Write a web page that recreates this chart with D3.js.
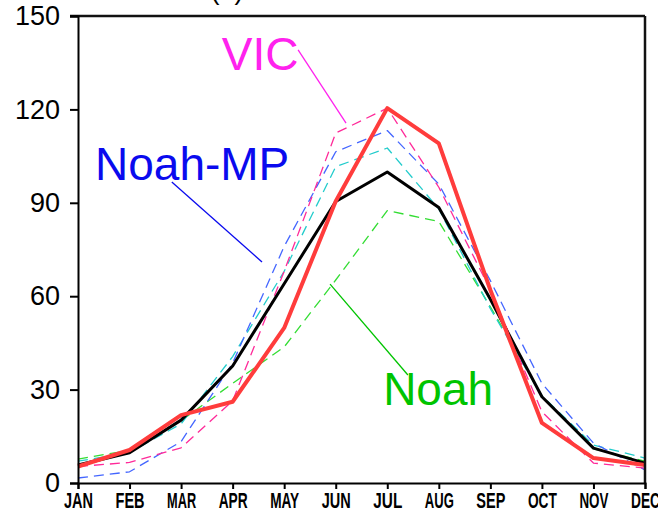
<!DOCTYPE html>
<html>
<head>
<meta charset="utf-8">
<script src="https://cdn.jsdelivr.net/npm/d3@7"></script>
<style>
  body { margin: 0; background: #fff; }
  svg { display: block; }
</style>
</head>
<body>
<div id="chart"></div>
<script>
// monthly values
let months = ["JAN", "FEB", "MAR", "APR", "MAY", "JUN", "JUL", "AUG", "SEP", "OCT", "NOV", "DEC"];
let yTicks = [0, 30, 60, 90, 120, 150];

let obs    = [5.8, 9.7, 20.2, 37.6, 64, 90.4, 99.9, 88.5, 59, 27.7, 11.2, 6.4];
let redRun = [5.3, 10.6, 21.8, 26.1, 49.8, 90.5, 120.4, 109.1, 62, 19.3, 8, 5.8];
let vic    = [5.3, 6.6, 11.3, 26.4, 68, 112.4, 120.4, 95, 62, 22.9, 6.4, 4.8];
let noahmp = [1.6, 3.6, 13.3, 38.5, 76, 106.4, 113.2, 96, 65, 32, 12.8, 4.2];
let cyanRun = [7, 9.8, 19, 40.6, 68, 101.6, 107.6, 88, 56, 28, 12.2, 8];
let noah   = [7.7, 10.5, 20, 32, 43.7, 65.2, 87.5, 84, 56.6, 28, 11, 7];

// labels: [month index, value] of text anchor and leader line ends
let labels = [
    {text: "VIC", color: "#ff22ee", at: [2.79, 132.7], line: [[4.27, 139.1], [5.20, 115.6]]},
    {text: "Noah-MP", color: "#0a0aee", at: [0.33, 97.3], line: [[1.82, 96.7], [3.57, 71]]},
    {text: "Noah", color: "#00c400", at: [5.92, 25.1], line: [[4.89, 63.9], [6.40, 34.7]]}
];

let margin = {left: 78, right: 13, top: 16, bottom: 29};
let width = 658 - margin.left - margin.right,
    height = 512 - margin.top - margin.bottom;

let svg = d3.select("#chart")
    .append("svg")
    .attr("width", 658)
    .attr("height", 512);

let g = svg.append("g")
    .attr("transform", "translate(" + margin.left + "," + margin.top + ")");

let x = d3.scalePoint()
    .domain(months)
    .range([0, width]);

let xi = d3.scaleLinear()
    .domain([0, months.length - 1])
    .range([0, width]);

let y = d3.scaleLinear()
    .domain([0, 150])
    .range([height, 0]);

// title, mostly cut off at the top
svg.append("text")
    .attr("x", 227)
    .attr("y", -1)
    .attr("text-anchor", "middle")
    .attr("font-family", "Liberation Sans, Arial, sans-serif")
    .attr("font-size", "27px")
    .text("(a)");

let line = d3.line()
    .x((d, i) => x(months[i]))
    .y(d => y(d));

let series = [
    {values: noah, color: "#33dd33", width: 1.3, dash: "10,6"},
    {values: cyanRun, color: "#22cccc", width: 1.3, dash: "10,6"},
    {values: noahmp, color: "#4466ff", width: 1.3, dash: "10,6"},
    {values: vic, color: "#ff2a99", width: 1.3, dash: "10,6"},
    {values: obs, color: "#000000", width: 3, dash: null},
    {values: redRun, color: "#ff3c3c", width: 4, dash: null}
];

g.selectAll("path.series")
    .data(series)
    .enter()
    .append("path")
    .attr("class", "series")
    .attr("fill", "none")
    .attr("stroke", d => d.color)
    .attr("stroke-width", d => d.width)
    .attr("stroke-dasharray", d => d.dash)
    .attr("stroke-linejoin", "round")
    .attr("d", d => line(d.values));

// frame: top and right
g.append("line")
    .attr("x1", -8).attr("x2", width)
    .attr("y1", 0).attr("y2", 0)
    .attr("stroke", "#111").attr("stroke-width", 2.5);
g.append("line")
    .attr("x1", width).attr("x2", width)
    .attr("y1", 0).attr("y2", height)
    .attr("stroke", "#111").attr("stroke-width", 2.5);

// axes
let yAxis = g.append("g")
    .call(d3.axisLeft(y).tickValues(yTicks).tickSize(8).tickPadding(10));
let xAxis = g.append("g")
    .attr("transform", "translate(0," + height + ")")
    .call(d3.axisBottom(x).tickSize(6).tickPadding(3));

[yAxis, xAxis].forEach(a => {
    a.select(".domain").attr("stroke", "#000").attr("stroke-width", 2);
    a.selectAll(".tick line").attr("stroke", "#000").attr("stroke-width", 2);
});

yAxis.selectAll("text")
    .attr("font-family", "Liberation Sans, Arial, sans-serif")
    .attr("font-size", "27px")
    .attr("fill", "#000");

xAxis.selectAll("text")
    .attr("font-family", "Liberation Sans, Arial, sans-serif")
    .attr("font-size", "22px")
    .attr("font-weight", "bold")
    .attr("fill", "#000")
    .attr("textLength", 29)
    .attr("lengthAdjust", "spacingAndGlyphs");

// model labels with leader lines
labels.forEach(l => {
    g.append("line")
        .attr("x1", xi(l.line[0][0])).attr("y1", y(l.line[0][1]))
        .attr("x2", xi(l.line[1][0])).attr("y2", y(l.line[1][1]))
        .attr("stroke", l.color)
        .attr("stroke-width", 1.3);
    g.append("text")
        .attr("x", xi(l.at[0]))
        .attr("y", y(l.at[1]))
        .attr("font-family", "Liberation Sans, Arial, sans-serif")
        .attr("font-size", "46px")
        .attr("fill", l.color)
        .text(l.text);
});
</script>
</body>
</html>
